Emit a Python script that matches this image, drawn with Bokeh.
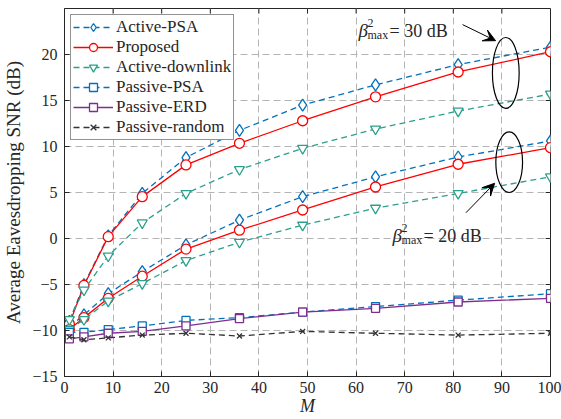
from bokeh.plotting import figure
from bokeh.models import Legend, LegendItem, Arrow, VeeHead, Label, FixedTicker, Range1d
from bokeh.embed import file_html
from bokeh.resources import INLINE

# ---------------- data ----------------
M = [1, 4, 9, 16, 25, 36, 49, 64, 81, 100]
# beta^2_max = 30 dB group
active_psa_30 = [-9.0, -5.0, 0.3, 4.9, 8.8, 11.75, 14.5, 16.7, 18.9, 20.8]
proposed_30 = [-9.3, -5.1, 0.2, 4.55, 8.0, 10.35, 12.8, 15.4, 18.1, 20.3]
active_dl_30 = [-8.8, -5.6, -1.9, 1.7, 4.9, 7.5, 9.8, 11.9, 13.85, 15.7]
# beta^2_max = 20 dB group
active_psa_20 = [-9.6, -8.3, -6.0, -3.6, -0.7, 2.0, 4.55, 6.7, 8.86, 10.6]
proposed_20 = [-9.9, -8.6, -6.5, -4.1, -1.15, 0.9, 3.1, 5.6, 8.07, 9.87]
active_dl_20 = [-9.9, -8.8, -6.8, -4.9, -2.4, -0.4, 1.45, 3.3, 4.9, 6.7]
# passive schemes
passive_psa = [-10.2, -10.2, -9.9, -9.5, -8.9, -8.6, -8.0, -7.4, -6.7, -6.0]
passive_erd = [-10.9, -10.7, -10.3, -10.1, -9.5, -8.7, -8.0, -7.6, -6.9, -6.5]
passive_random = [-10.7, -11.0, -10.8, -10.5, -10.3, -10.6, -10.1, -10.3, -10.5, -10.3]

x_ticks = [0, 10, 20, 30, 40, 50, 60, 70, 80, 90, 100]
y_ticks = [-15, -10, -5, 0, 5, 10, 15, 20]
X_MIN, X_MAX, Y_MIN, Y_MAX = 0, 100, -15, 25

SERIF = "Liberation Serif"
BLUE = "#0072BD"
RED = "#FF0000"
TEAL = "#2BA08C"
PURPLE = "#7E2F8E"
DARK = "#262626"

p = figure(width=561, height=419, x_range=Range1d(X_MIN, X_MAX), y_range=Range1d(Y_MIN, Y_MAX),
           output_backend="svg", toolbar_location=None,
           min_border_left=62, min_border_right=11, min_border_top=8, min_border_bottom=43)
p.outline_line_color = DARK
p.outline_line_width = 1
p.background_fill_color = "white"
p.border_fill_color = "white"

for ax in (p.xaxis[0], p.yaxis[0]):
    ax.axis_line_color = DARK
    ax.major_tick_line_color = DARK
    ax.major_tick_in = 5
    ax.major_tick_out = 0
    ax.minor_tick_line_color = None
    ax.major_label_text_font = SERIF
    ax.major_label_text_color = DARK
    ax.major_label_text_font_size = "16px"

p.xaxis.ticker = FixedTicker(ticks=x_ticks)
p.yaxis.ticker = FixedTicker(ticks=y_ticks)
p.xaxis.major_label_standoff = 5
p.yaxis.major_label_standoff = 7
p.xaxis.axis_label = "M"
p.xaxis.axis_label_text_font = SERIF
p.xaxis.axis_label_text_font_style = "italic"
p.xaxis.axis_label_text_font_size = "18px"
p.xaxis.axis_label_text_color = DARK
p.xaxis.axis_label_standoff = 0
p.yaxis.axis_label = "Average Eavesdropping SNR (dB)"
p.yaxis.axis_label_text_font = SERIF
p.yaxis.axis_label_text_font_style = "normal"
p.yaxis.axis_label_text_font_size = "19px"
p.yaxis.axis_label_text_color = DARK
p.yaxis.axis_label_standoff = 5

for g in (p.xgrid[0], p.ygrid[0]):
    g.grid_line_color = "#b4b4b4"
    g.grid_line_dash = "7 4"
    g.grid_line_width = 1

# inward ticks on the top and right edges of the box (MATLAB "box on")
p.segment(x0=x_ticks, y0=[Y_MAX] * len(x_ticks), x1=x_ticks, y1=[Y_MAX - 0.55] * len(x_ticks),
          line_color=DARK, line_width=1)
p.segment(x0=[X_MAX] * len(y_ticks), y0=y_ticks, x1=[X_MAX - 1.0] * len(y_ticks), y1=y_ticks,
          line_color=DARK, line_width=1)

LW = 1.3


def series(y, color, dash, marker, size):
    ln = p.line(M, y, line_color=color, line_width=LW, line_dash=dash)
    sc = p.scatter(M, y, marker=marker, size=size, line_color=color, fill_color="white",
                   line_width=LW)
    return [ln, sc]


r_apsa = series(active_psa_30, BLUE, "6 4", "diamond", 12)
series(active_psa_20, BLUE, "6 4", "diamond", 12)
r_prop = series(proposed_30, RED, "solid", "circle", 10)
series(proposed_20, RED, "solid", "circle", 10)
r_adl = series(active_dl_30, TEAL, "6 4", "inverted_triangle", 10)
series(active_dl_20, TEAL, "6 4", "inverted_triangle", 10)
r_ppsa = series(passive_psa, BLUE, "6 4", "square", 8)
r_perd = series(passive_erd, PURPLE, "solid", "square", 8)
r_prand = series(passive_random, "#333333", "6 4", "x", 7)

legend = Legend(items=[
    LegendItem(label="Active-PSA", renderers=r_apsa),
    LegendItem(label="Proposed", renderers=r_prop),
    LegendItem(label="Active-downlink", renderers=r_adl),
    LegendItem(label="Passive-PSA", renderers=r_ppsa),
    LegendItem(label="Passive-ERD", renderers=r_perd),
    LegendItem(label="Passive-random", renderers=r_prand),
], location="top_left")
legend.label_text_font = SERIF
legend.label_text_font_size = "17px"
legend.label_text_color = DARK
legend.border_line_color = DARK
legend.border_line_width = 1
legend.background_fill_color = "white"
legend.background_fill_alpha = 1
legend.glyph_width = 40
legend.glyph_height = 20
legend.label_height = 20
legend.label_standoff = 3
legend.spacing = 0
legend.padding = 2
legend.margin = 6
p.add_layout(legend, "center")

# ellipses marking the two groups
ell_x = [90.8, 91.5]
ell_y = [18.0, 8.3]
ell_w = [5.5, 5.5]
ell_h = [7.7, 6.6]
p.ellipse(x=ell_x, y=ell_y, width=ell_w, height=ell_h, fill_color=None,
          line_color="black", line_width=1.2)

# arrows
p.add_layout(Arrow(end=VeeHead(size=12, fill_color="black", line_color="black"),
                   x_start=81.9, y_start=23.25, x_end=88.7, y_end=21.5,
                   line_color="black", line_width=1))
p.add_layout(Arrow(end=VeeHead(size=12, fill_color="black", line_color="black"),
                   x_start=82.6, y_start=2.8, x_end=88.5, y_end=6.0,
                   line_color="black", line_width=1))


def beta_label(x, y, rest):
    common = dict(x=x, y=y, text_font=SERIF, text_color=DARK, text_baseline="alphabetic")
    p.add_layout(Label(text="β", text_font_size="19px", text_font_style="italic", **common))
    p.add_layout(Label(text="2", text_font_size="12px", x_offset=9, y_offset=8, **common))
    p.add_layout(Label(text="max", text_font_size="12px", x_offset=9, y_offset=-4, **common))
    p.add_layout(Label(text=rest, text_font_size="18px", x_offset=31, **common))


beta_label(60.5, 22.6, "= 30 dB")
beta_label(67.5, 0.3, "= 20 dB")

open("out.html", "w").write(file_html(p, INLINE))
